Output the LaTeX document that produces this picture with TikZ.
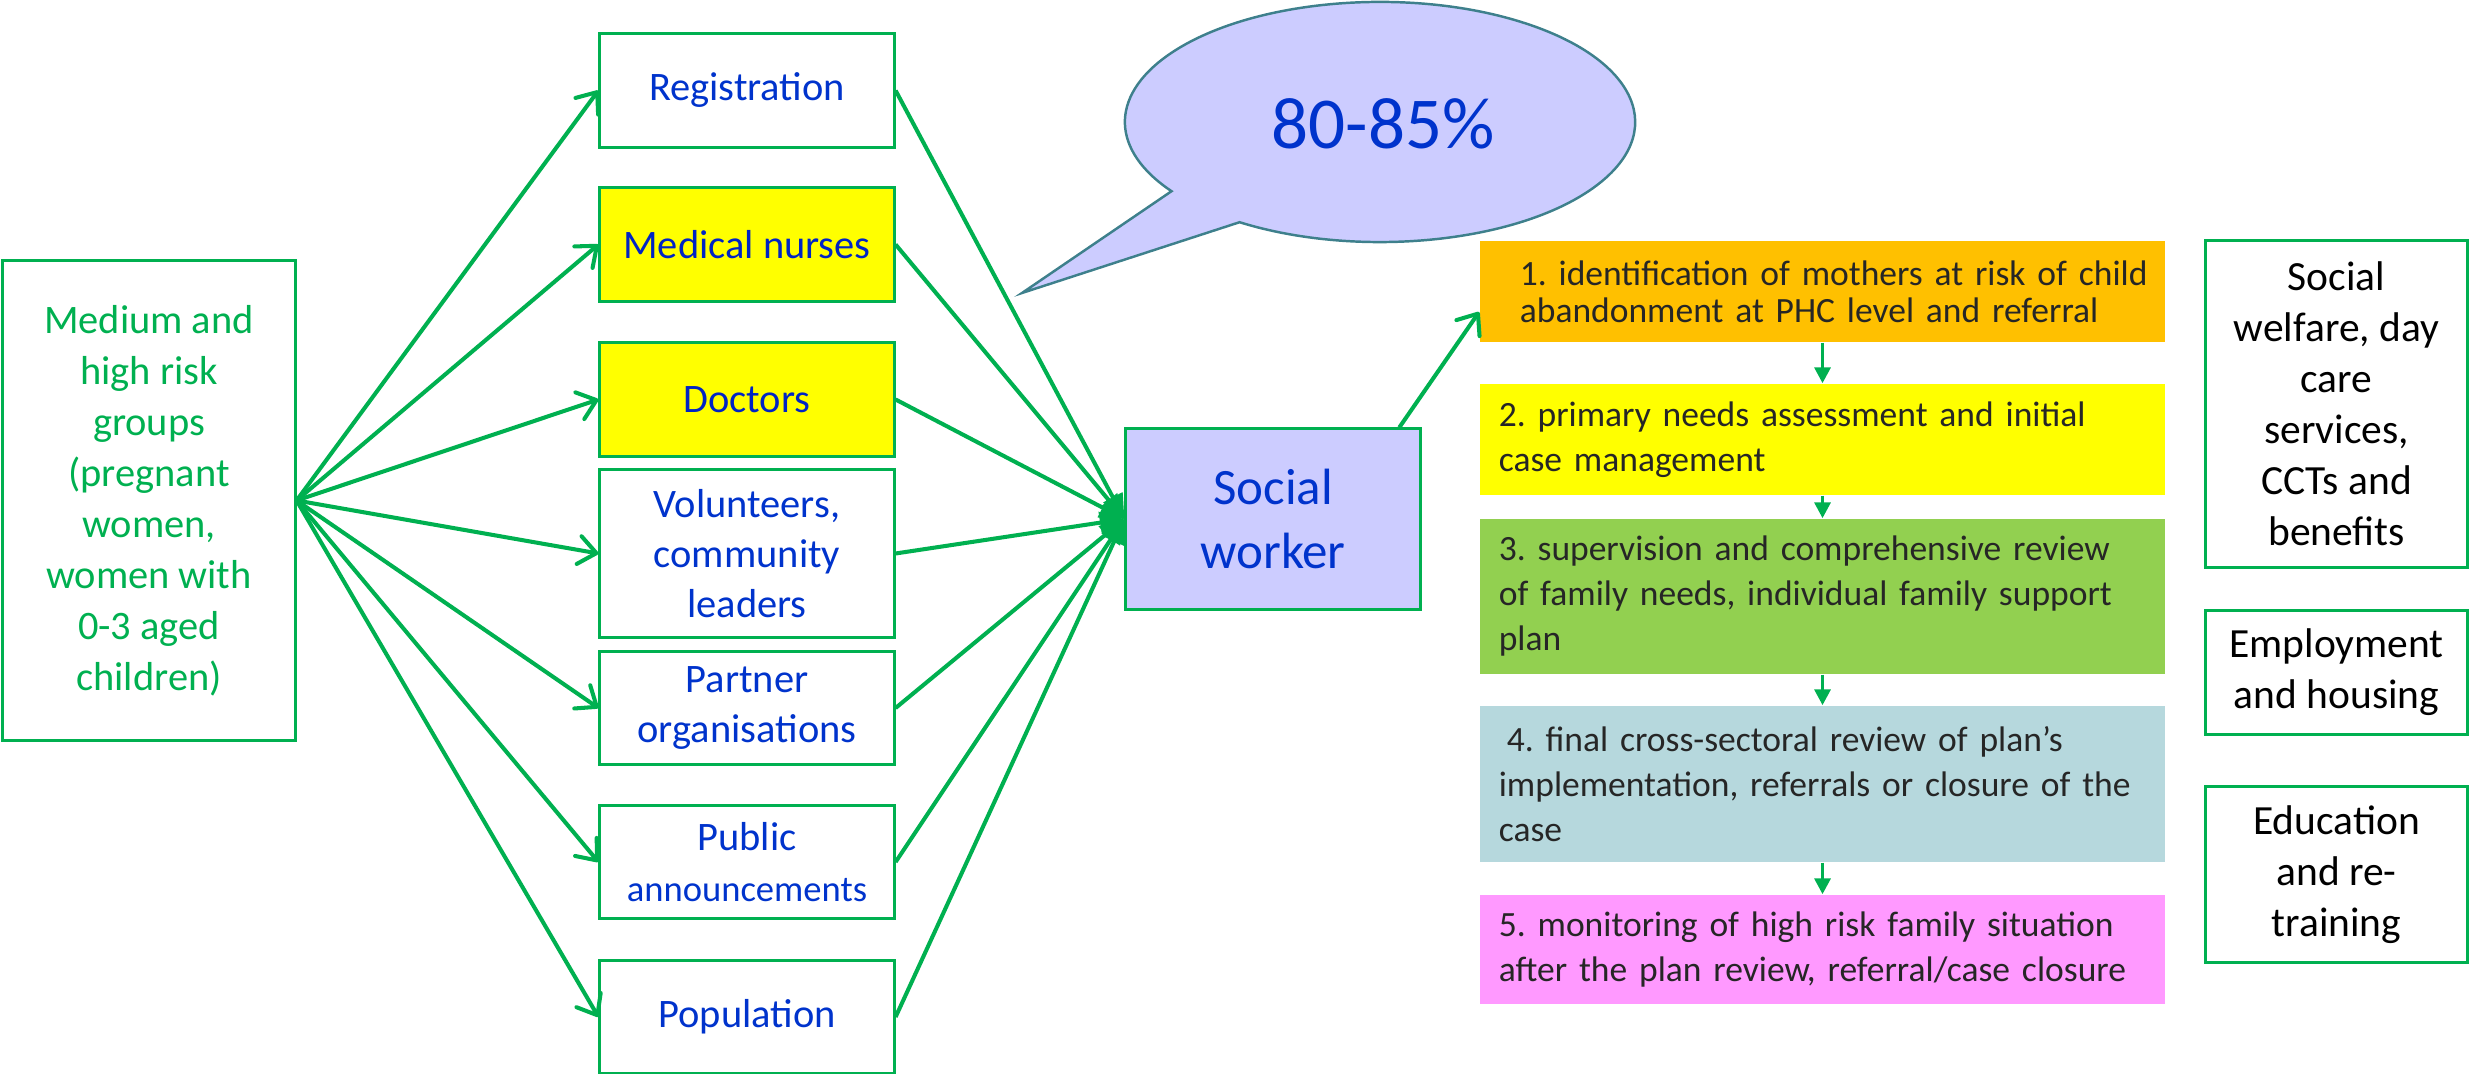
\documentclass[tikz,border=0pt]{standalone}
\usepackage{fontspec}
\setmainfont{Carlito}
\usetikzlibrary{arrows.meta,calc}
\definecolor{grn}{RGB}{0,176,80}
\definecolor{blu}{RGB}{0,51,204}
\definecolor{dblu}{RGB}{0,36,196}
\definecolor{lav}{RGB}{204,204,255}
\definecolor{bubline}{RGB}{62,128,140}
\definecolor{sorange}{RGB}{255,192,0}
\definecolor{syellow}{RGB}{255,255,0}
\definecolor{sgreen}{RGB}{146,208,80}
\definecolor{sblue}{RGB}{182,216,221}
\definecolor{spink}{RGB}{255,153,255}
\definecolor{stepgray}{RGB}{38,38,38}
\newcommand{\sline}[1]{\mbox{#1}}
\frenchspacing
\begin{document}
\begin{tikzpicture}[x=0.01cm,y=0.01cm,
  box/.style={draw=grn, line width=0.85pt, inner sep=0pt, align=center},
  mid/.style={box, minimum width=2.94cm, text=blu, font=\fontsize{11.5}{14.3}\selectfont},
  side/.style={box, minimum width=2.61cm, text=black, font=\fontsize{11.8}{14.5}\selectfont},
  stepbox/.style={inner xsep=0.19cm, inner ysep=0pt, text width=6.47cm, align=left, text=stepgray, font=\fontsize{10.1}{12.8}\selectfont\frenchspacing},
  fan/.style={draw=grn, line width=1.15pt, -{Straight Barb[length=5pt,width=8pt,round]}},
  conv/.style={draw=grn, line width=1.15pt, -{Triangle[length=7pt,width=6pt]}},
  down/.style={draw=grn, line width=1pt, -{Triangle[length=4.5pt,width=4.5pt]}},
]
\useasboundingbox (0,0) rectangle (2483,-1074);

% speech bubble
\draw[draw=bubline, fill=lav, line width=0.7pt] (1380,-122) ++(236.6:2.55cm and 1.2cm)
  arc[start angle=236.6, end angle=575.2, x radius=2.55cm, y radius=1.2cm]
  -- (1022,-293) -- cycle;
\node[text=blu, font=\fontsize{20.8}{25}\selectfont] (pct) at (1383,-124) {80-85\%};

% left box
\node[box, minimum width=2.92cm, minimum height=4.79cm, text=grn,
      font=\fontsize{11.5}{14.5}\selectfont] (lb) at (149,-500.5)
  {Medium and\\high risk\\groups\\(pregnant\\women,\\women with\\0-3 aged\\children)};

% middle boxes
\node[mid, minimum height=1.13cm] (reg) at (747,-90.5) {Registration};
\node[mid, minimum height=1.13cm, fill=syellow, text=dblu] (nur) at (747,-244.5) {Medical nurses};
\node[mid, minimum height=1.13cm, fill=syellow, text=dblu] (doc) at (747,-399.5) {Doctors};
\node[mid, minimum height=1.67cm] (vol) at (747,-553.5) {Volunteers,\\community\\leaders};
\node[mid, minimum height=1.12cm] (par) at (747,-708) {Partner\\organisations};
\node[mid, minimum height=1.12cm] (pub) at (747,-862) {Public\\{\fontsize{10.4}{14.3}\selectfont announcements}};
\node[mid, minimum height=1.12cm] (pop) at (747,-1017) {Population};

% social worker
\node[box, fill=lav, minimum width=2.94cm, minimum height=1.80cm, text=blu,
      font=\fontsize{14.5}{18.2}\selectfont] (sw) at (1273,-519) {Social\\worker};

% steps
\node[stepbox, fill=sorange, minimum height=1.01cm, font=\fontsize{10.1}{10.5}\selectfont] (s1) at (1822.5,-291.5)
  {\hspace*{0.21cm}\sline{1. identification of mothers at risk of child}\\\hspace*{0.21cm}\sline{abandonment at PHC level and referral}};
\node[stepbox, fill=syellow, minimum height=1.11cm] (s2) at (1822.5,-439.5)
  {\sline{2. primary needs assessment and initial}\\\sline{case management}};
\node[stepbox, fill=sgreen, minimum height=1.55cm] (s3) at (1822.5,-596.5)
  {\sline{3. supervision and comprehensive review}\\\sline{of family needs, individual family support}\\\sline{plan}};
\node[stepbox, fill=sblue, minimum height=1.56cm] (s4) at (1822.5,-784)
  {\hspace*{0.08cm}\sline{4. final cross-sectoral review of plan’s}\\\sline{implementation, referrals or closure of the}\\\sline{case}};
\node[stepbox, fill=spink, minimum height=1.09cm] (s5) at (1822.5,-949.5)
  {\sline{5. monitoring of high risk family situation}\\\sline{after the plan review, referral/case closure}};

% right boxes
\node[side, minimum height=3.26cm] (ra) at (2336.5,-404) {Social\\welfare, day\\care\\services,\\CCTs and\\benefits};
\node[side, minimum height=1.23cm] (rb) at (2336.5,-672.5) {Employment\\and housing};
\node[side, minimum height=1.75cm] (rc) at (2336.5,-874.5) {Education\\and re-\\training};

% connectors
\foreach \n in {reg,nur,doc,vol,par,pub,pop} {
  \draw[fan] (lb.east) -- (\n.west);
  \draw[conv] (\n.east) -- (sw.west);
}
\draw[fan] ($(sw.north west)!0.925!(sw.north east)$) -- ($(s1.north west)!0.7!(s1.south west)$);
\draw[down] (s1) -- (s2);
\draw[down] (s2) -- (s3);
\draw[down] (s3) -- (s4);
\draw[down] (s4) -- (s5);
\end{tikzpicture}
\end{document}
